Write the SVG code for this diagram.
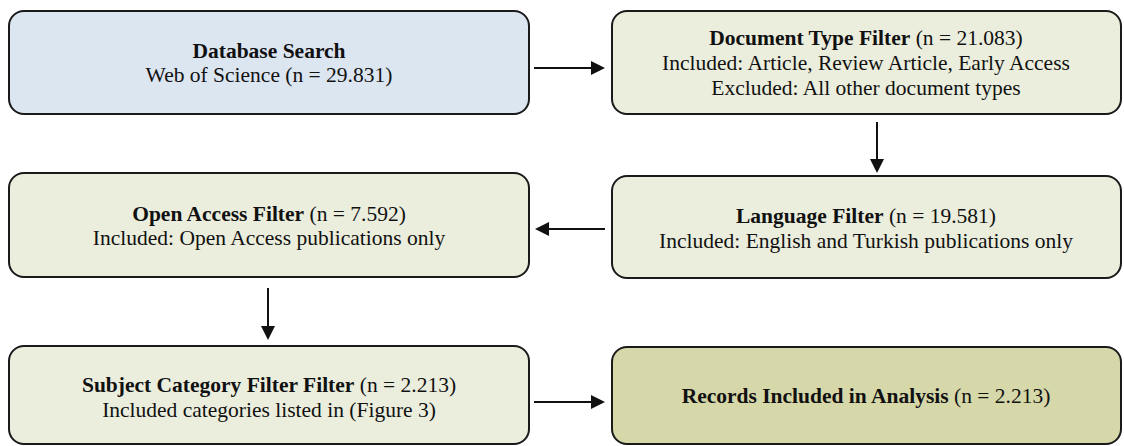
<svg xmlns="http://www.w3.org/2000/svg" width="1124" height="446" viewBox="0 0 1124 446">
  <style>
    .box { stroke: #1a1a1a; stroke-width: 2; }
    .blue { fill: #dce6f1; }
    .green { fill: #ebeedd; }
    .olive { fill: #d6d8a9; }
    text { font-family: "Liberation Serif", "Times New Roman", serif; font-size: 21.5px; fill: #111; text-anchor: middle; }
    .b { font-weight: bold; }
    .conn { stroke: #111; stroke-width: 2; fill: none; }
  </style>
  <defs>
    <marker id="arrow" markerUnits="userSpaceOnUse" markerWidth="14" markerHeight="14" refX="2" refY="7" orient="auto">
      <path d="M0,0 L14,7 L0,14 z" fill="#111"/>
    </marker>
  </defs>
  <rect width="1124" height="446" fill="#ffffff"/>

  <g id="node-database-search">
    <rect class="box blue" x="9" y="11" width="520" height="103" rx="15"/>
    <text x="269" y="58"><tspan class="b">Database Search</tspan></text>
    <text x="269" y="82">Web of Science (n = 29.831)</text>
  </g>

  <g id="node-document-type">
    <rect class="box green" x="612" y="11" width="509" height="103" rx="15"/>
    <text x="866" y="45"><tspan class="b">Document Type Filter</tspan> (n = 21.083)</text>
    <text x="866" y="70">Included: Article, Review Article, Early Access</text>
    <text x="866" y="95">Excluded: All other document types</text>
  </g>

  <g id="node-open-access">
    <rect class="box green" x="9" y="173" width="520" height="104" rx="15"/>
    <text x="269" y="221"><tspan class="b">Open Access Filter</tspan> (n = 7.592)</text>
    <text x="269" y="245">Included: Open Access publications only</text>
  </g>

  <g id="node-language">
    <rect class="box green" x="612" y="176" width="509" height="102" rx="15"/>
    <text x="866" y="223"><tspan class="b">Language Filter</tspan> (n = 19.581)</text>
    <text x="866" y="248">Included: English and Turkish publications only</text>
  </g>

  <g id="node-subject-category">
    <rect class="box green" x="9" y="346" width="520" height="98" rx="15"/>
    <text x="269" y="392"><tspan class="b">Subject Category Filter Filter</tspan> (n = 2.213)</text>
    <text x="269" y="417">Included categories listed in (Figure 3)</text>
  </g>

  <g id="node-records-included">
    <rect class="box olive" x="612" y="347" width="509" height="97" rx="15"/>
    <text x="866" y="403"><tspan class="b">Records Included in Analysis</tspan> (n = 2.213)</text>
  </g>

  <g id="connectors">
    <line class="conn" x1="534" y1="68" x2="593" y2="68" marker-end="url(#arrow)"/>
    <line class="conn" x1="877" y1="122" x2="877" y2="161" marker-end="url(#arrow)"/>
    <line class="conn" x1="605" y1="229" x2="547" y2="229" marker-end="url(#arrow)"/>
    <line class="conn" x1="268" y1="288" x2="268" y2="328" marker-end="url(#arrow)"/>
    <line class="conn" x1="534" y1="402" x2="593" y2="402" marker-end="url(#arrow)"/>
  </g>
</svg>
